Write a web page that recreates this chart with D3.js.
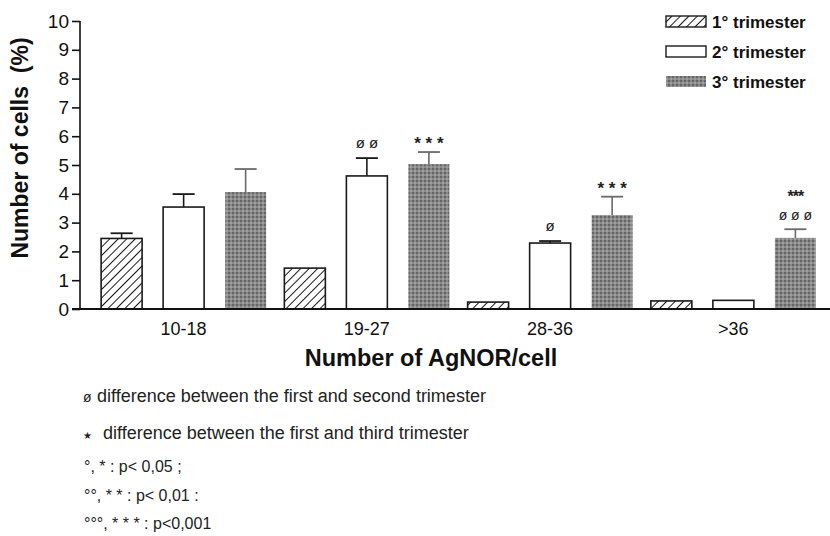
<!DOCTYPE html>
<html>
<head>
<meta charset="utf-8">
<script src="https://cdn.jsdelivr.net/npm/d3@7/dist/d3.min.js"></script>
<style>
  html, body { margin: 0; padding: 0; background: #fff; }
  svg { display: block; font-family: "Liberation Sans", Arial, sans-serif; }
</style>
</head>
<body>
<svg id="chart" width="830" height="536"></svg>
<script>
// AgNOR classes on the x axis
const categories = ["10-18", "19-27", "28-36", ">36"];
const trimesters = ["1° trimester", "2° trimester", "3° trimester"];

// Mean percentage of cells per class, one array per trimester
const trimester1 = [2.45, 1.42, 0.24, 0.28];
const trimester2 = [3.54, 4.62, 2.29, 0.30];
const trimester3 = [4.06, 5.03, 3.26, 2.47];

// Upper error (SE) per bar
const error1 = [0.18, 0, 0, 0];
const error2 = [0.45, 0.62, 0.07, 0];
const error3 = [0.80, 0.42, 0.64, 0.30];

// Significance marks above bars (lines listed top to bottom)
const marks2 = [[], ["ø ø"], ["ø"], []];
const marks3 = [[], ["* * *"], ["* * *"], ["***", "ø ø ø"]];

const yTicks = [0, 1, 2, 3, 4, 5, 6, 7, 8, 9, 10];

const footnotes = [
  { sym: "ø", text: "difference between the first and second trimester" },
  { sym: "★", text: "difference between the first and third trimester" }
];
const pLevels = ["°, * : p< 0,05 ;", "°°, * * : p< 0,01 :", "°°°, * * * : p<0,001"];

const svg = d3.select("#chart");
const defs = svg.append("defs");

// diagonal hatch for the first trimester
const hatch = defs.append("pattern")
  .attr("id", "hatch").attr("patternUnits", "userSpaceOnUse")
  .attr("width", 6).attr("height", 6)
  .attr("patternTransform", "rotate(45)");
hatch.append("rect").attr("width", 6).attr("height", 6).attr("fill", "#fff");
hatch.append("line").attr("x1", 0).attr("y1", 0).attr("x2", 0).attr("y2", 6)
  .attr("stroke", "#1a1a1a").attr("stroke-width", 2);

// stippled grey for the third trimester
const stip = defs.append("pattern")
  .attr("id", "stipple").attr("patternUnits", "userSpaceOnUse")
  .attr("width", 4).attr("height", 4);
stip.append("rect").attr("width", 4).attr("height", 4).attr("fill", "#888");
stip.append("circle").attr("cx", 1).attr("cy", 1).attr("r", 0.9).attr("fill", "#555");
stip.append("circle").attr("cx", 3).attr("cy", 3).attr("r", 0.9).attr("fill", "#aaa");

const fills = ["url(#hatch)", "#fff", "url(#stipple)"];
const strokes = ["#1a1a1a", "#1a1a1a", "none"];
const errColors = ["#1a1a1a", "#1a1a1a", "#6a6a6a"];

const y = d3.scaleLinear().domain([0, 10]).range([309, 21]);
const x0 = d3.scaleBand().domain(categories).range([92, 825]).paddingInner(0).paddingOuter(0);
const x1 = d3.scaleBand().domain(d3.range(3)).range([0, x0.bandwidth()])
  .paddingInner(0.339).paddingOuter(0.147);

const values = [trimester1, trimester2, trimester3];
const errors = [error1, error2, error3];
const marks = [[[], [], [], []], marks2, marks3];

const bars = [];
categories.forEach((c, ci) => {
  for (let s = 0; s < 3; s++) {
    bars.push({ c, ci, s, v: values[s][ci], e: errors[s][ci], m: marks[s][ci] });
  }
});

// bars
svg.append("g").selectAll("rect").data(bars).join("rect")
  .attr("x", d => x0(d.c) + x1(d.s))
  .attr("y", d => y(d.v))
  .attr("width", x1.bandwidth())
  .attr("height", d => y(0) - y(d.v))
  .attr("fill", d => fills[d.s])
  .attr("stroke", d => strokes[d.s])
  .attr("stroke-width", 1.6);

// error bars
const eg = svg.append("g");
bars.filter(d => d.e > 0).forEach(d => {
  const cx = x0(d.c) + x1(d.s) + x1.bandwidth() / 2;
  eg.append("line").attr("x1", cx).attr("x2", cx)
    .attr("y1", y(d.v)).attr("y2", y(d.v + d.e))
    .attr("stroke", errColors[d.s]).attr("stroke-width", 1.6);
  eg.append("line").attr("x1", cx - 11).attr("x2", cx + 11)
    .attr("y1", y(d.v + d.e)).attr("y2", y(d.v + d.e))
    .attr("stroke", errColors[d.s]).attr("stroke-width", 1.8);
});

// significance marks
const mg = svg.append("g").attr("fill", "#222").attr("text-anchor", "middle");
bars.filter(d => d.m.length).forEach(d => {
  const cx = x0(d.c) + x1(d.s) + x1.bandwidth() / 2;
  const top = y(d.v + d.e);
  const stacked = d.m.length > 1;
  d.m.forEach((t, i) => {
    const isStar = t.indexOf("*") >= 0;
    let by;
    if (stacked) by = i === 0 ? top - 27 : top - 9;
    else by = isStar ? top - 3 : top - 10;
    mg.append("text").attr("x", cx).attr("y", by)
      .attr("font-size", isStar ? (stacked ? 16 : 17) : (stacked ? 14 : 15))
      .attr("font-weight", isStar ? "bold" : "normal")
      .attr("letter-spacing", stacked && isStar ? -1 : 0)
      .text(t);
  });
});

// axes
const yAxis = d3.axisLeft(y).tickValues(yTicks).tickSize(8).tickPadding(3);
const gy = svg.append("g").attr("transform", "translate(80,0)").call(yAxis);
gy.select(".domain").attr("stroke", "#111").attr("stroke-width", 1.6).attr("d", "M0,21V309");
gy.selectAll(".tick line").attr("stroke", "#111").attr("stroke-width", 1.6);
gy.selectAll(".tick text").attr("font-size", 19).attr("fill", "#111")
  .attr("font-family", "Liberation Sans, Arial, sans-serif");

svg.append("line").attr("x1", 72).attr("x2", 830).attr("y1", y(0)).attr("y2", y(0))
  .attr("stroke", "#111").attr("stroke-width", 2);

svg.append("g").selectAll("text").data(categories).join("text")
  .attr("x", d => x0(d) + x0.bandwidth() / 2)
  .attr("y", 335)
  .attr("text-anchor", "middle")
  .attr("font-size", 18).attr("fill", "#111")
  .text(d => d);

svg.append("text").attr("x", 431).attr("y", 366).attr("text-anchor", "middle")
  .attr("font-size", 23.5).attr("font-weight", "bold").attr("fill", "#111")
  .text("Number of AgNOR/cell");

svg.append("text").attr("transform", "translate(28,148) rotate(-90)")
  .attr("text-anchor", "middle").attr("font-size", 23).attr("font-weight", "bold")
  .attr("fill", "#111").attr("xml:space", "preserve")
  .text("Number of cells  (%)");

// legend
const lg = svg.append("g");
trimesters.forEach((t, i) => {
  const yy = 22 + i * 30;
  lg.append("rect").attr("x", 666).attr("y", yy - 6).attr("width", 40).attr("height", 11)
    .attr("fill", fills[i]).attr("stroke", strokes[i]).attr("stroke-width", 1.4);
  lg.append("text").attr("x", 712).attr("y", yy + 6).attr("font-size", 17)
    .attr("font-weight", "bold").attr("fill", "#111").text(t);
});

// footnotes
const fg = svg.append("g").attr("fill", "#222");
footnotes.forEach((f, i) => {
  const yy = 402 + i * 37;
  fg.append("text").attr("x", 83).attr("y", yy)
    .attr("font-size", i === 0 ? 14 : 10).text(f.sym);
  fg.append("text").attr("x", i === 0 ? 97 : 103).attr("y", yy).attr("font-size", 18).text(f.text);
});
pLevels.forEach((p, i) => {
  fg.append("text").attr("x", 84).attr("y", 472 + i * 28.5).attr("font-size", 16)
    .attr("xml:space", "preserve").text(p);
});
</script>
</body>
</html>
